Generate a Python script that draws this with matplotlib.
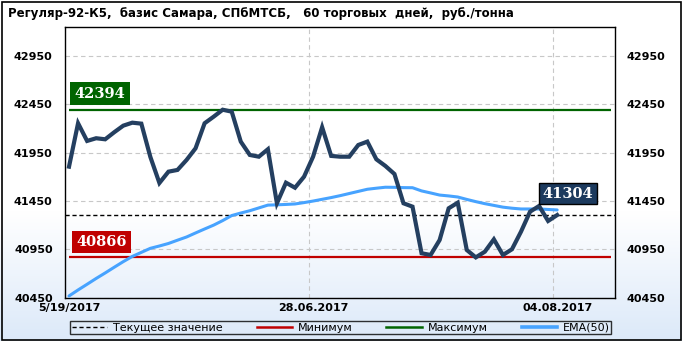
import numpy as np
import matplotlib
matplotlib.use("Agg")
import matplotlib.pyplot as plt
from matplotlib.lines import Line2D
from matplotlib.patches import Rectangle

# prices, 55 trading days
price = [41805, 42254, 42071, 42099, 42088, 42161, 42229, 42260, 42250, 41905,
         41636, 41753, 41771, 41874, 41995, 42254, 42322, 42394, 42374, 42064,
         41926, 41908, 41985, 41426, 41639, 41587, 41701, 41908, 42213, 41916,
         41908, 41908, 42029, 42064, 41881, 41812, 41729, 41426, 41391, 40909,
         40891, 41046, 41374, 41432, 40943, 40866, 40925, 41053, 40891, 40950,
         41132, 41339, 41398, 41243, 41304]
ema = [40467, 40529, 40588, 40648, 40705, 40764, 40822, 40876, 40918, 40960,
       40984, 41010, 41044, 41077, 41119, 41160, 41200, 41247, 41299, 41325,
       41349, 41378, 41407, 41410, 41414, 41419, 41433, 41449, 41467, 41485,
       41505, 41527, 41549, 41571, 41582, 41592, 41591, 41588, 41587, 41554,
       41533, 41511, 41502, 41491, 41466, 41443, 41422, 41404, 41386, 41375,
       41367, 41367, 41367, 41362, 41357]
yticks = [40450, 40950, 41450, 41950, 42450, 42950]
date_pos = [0, 27, 54]
date_labels = ["5/19/2017", "28.06.2017", "04.08.2017"]
title = "Регуляр-92-К5,  базис Самара, СПбМТСБ,   60 торговых  дней,  руб./тонна"
legend_labels = ["Текущее значение", "Минимум", "Максимум", "EMA(50)"]

vmax = max(price)
vmin = min(price)
vcur = price[-1]
x = np.arange(len(price))

W, H = 682, 341
fig = plt.figure(figsize=(W / 100, H / 100), dpi=100)

# background gradient (white on top, light blue at the bottom)
bg = fig.add_axes([0, 0, 1, 1], zorder=-10)
bg.axis("off")
t = np.linspace(0, 1, 341)
t = np.clip((t - 0.62) / 0.38, 0, 1)
top = np.array([1.0, 1.0, 1.0])
bot = np.array([0xdc, 0xe9, 0xf9]) / 255
grad = top[None, :] * (1 - t[:, None]) + bot[None, :] * t[:, None]
bg.imshow(grad[:, None, :], aspect="auto", extent=[0, 1, 0, 1], origin="upper")
bg.set_xlim(0, 1)
bg.set_ylim(0, 1)
bg.add_patch(Rectangle((1.5 / W, 1.5 / H), 1 - 3 / W, 1 - 3 / H, fill=False,
                       edgecolor="black", lw=1.2, transform=bg.transAxes))

ax = fig.add_axes([64.5 / W, 1 - 297.6 / H, (615 - 64.5) / W, (297.6 - 27) / H])
ax.patch.set_alpha(0)

ax.set_ylim(40450, 43250)
ax.set_xlim(-0.5, 60.4)

ax.plot(x, ema, color="#47a3ff", lw=2.2, solid_capstyle="round", zorder=3)
ax.plot(x, price, color="#243f60", lw=3.0, solid_joinstyle="miter", zorder=4)
ax.hlines(vmax, 0, 60, color="#006400", lw=1.6, zorder=2)
ax.hlines(vmin, 0, 60, color="#c00000", lw=1.6, zorder=2)
ax.axhline(vcur, color="black", lw=1, dashes=(3, 2), zorder=2)

ax.set_yticks(yticks)
ax.set_yticklabels([str(v) for v in yticks])
ax.tick_params(axis="y", length=0, labelsize=8, pad=8.5, labelright=True)
for lab in ax.get_yticklabels():
    lab.set_fontweight("bold")
ax.set_xticks(date_pos)
ax.set_xticklabels(date_labels, fontsize=8, fontweight="bold")
ax.tick_params(axis="x", length=0, pad=4)
ax.set_xticks([26.5, 53.5], minor=True)
ax.tick_params(axis="x", which="minor", length=0)
ax.grid(axis="y", color="#c8c8c8", lw=0.8, ls=(0, (4, 3)))
ax.grid(axis="x", which="minor", color="#c8c8c8", lw=0.8, ls=(0, (4, 3)))
for s in ax.spines.values():
    s.set_color("black")
    s.set_linewidth(1)

lab_font = dict(fontsize=10.5, fontweight="bold", color="white", family="DejaVu Serif",
                ha="center", va="center", zorder=6)
ax.annotate(str(vmax), xy=(0, vmax), xytext=(31, 16), textcoords="offset pixels",
            bbox=dict(boxstyle="square,pad=0.3", fc="#006400", ec="none"), **lab_font)
ax.annotate(str(vmin), xy=(0, vmin), xytext=(32.5, 15.5), textcoords="offset pixels",
            bbox=dict(boxstyle="square,pad=0.3", fc="#c00000", ec="none"), **lab_font)
ax.annotate(str(vcur), xy=(x[-1], vcur), xytext=(11, 21.5), textcoords="offset pixels",
            bbox=dict(boxstyle="square,pad=0.25", fc="#1c3a5e", ec="black", lw=1), **lab_font)

fig.text(8 / W, 1 - 13 / H, title, fontsize=8.5, fontweight="bold", ha="left", va="center")

handles = [Line2D([], [], color="black", lw=1, dashes=(3, 2)),
           Line2D([], [], color="#c00000", lw=1.8),
           Line2D([], [], color="#006400", lw=1.8),
           Line2D([], [], color="#47a3ff", lw=2.6)]
leg = fig.legend(handles, legend_labels, loc="center", ncol=4,
                 bbox_to_anchor=(64.5 / W, 1 - 335 / H, (617 - 64.5) / W, 14.5 / H),
                 mode="expand", fontsize=8, frameon=True, fancybox=False,
                 handlelength=3.2, handletextpad=0.5, borderpad=0.15, columnspacing=1.0)
leg.get_frame().set_edgecolor("black")
leg.get_frame().set_facecolor("none")
leg.get_frame().set_linewidth(1)

fig.savefig("out.png", dpi=100)
